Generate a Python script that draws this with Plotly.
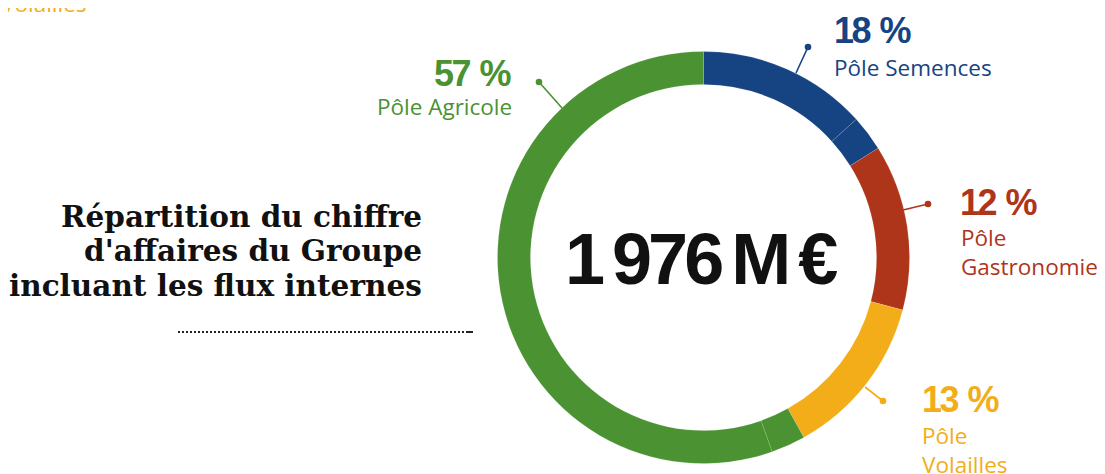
import plotly.graph_objects as go

W, H = 1105, 474
OFF = 8  # page body margin of the html page

# ---- data ----
seg_labels = ["Pôle Semences", "Pôle Semences (flux internes)", "Pôle Gastronomie",
              "Pôle Volailles", "Pôle Agricole (flux internes)", "Pôle Agricole"]
seg_values = [13.3, 2.8, 13.0, 12.8, 2.7, 55.4]
pole_names = ["Pôle Semences", "Pôle<br>Gastronomie", "Pôle<br>Volailles", "Pôle Agricole"]
pole_pcts = ["18 %", "12 %", "13 %", "57 %"]
total_text = "1 976 M €"
title_lines = ["Répartition du chiffre", "d'affaires du Groupe", "incluant les flux internes"]

BLUE, RED, YEL, GRN = "#164382", "#ae3519", "#f2ad18", "#4a9232"
seg_colors = [BLUE, BLUE, RED, YEL, GRN, GRN]


def px(x):
    return (x - OFF) / W


def py(y):
    return 1 - (y - OFF) / H


cx, cy, R = 703.5, 257.5, 206

fig = go.Figure(go.Pie(
    labels=seg_labels, values=seg_values, sort=False, direction="clockwise", rotation=0,
    hole=0.84, textinfo="none", showlegend=False,
    marker=dict(colors=seg_colors, line=dict(color="rgba(255,255,255,0.25)", width=0.5)),
    domain=dict(x=[px(cx - R), px(cx + R)], y=[py(cy + R), py(cy - R)]),
))

ann = []
NUM_FONT = "Liberation Sans, Arial, sans-serif"
LAB_FONT = "Open Sans, Noto Sans, sans-serif"


def squeeze(t, ls, ws):
    return f'<span style="letter-spacing:{ls}px;word-spacing:{ws}px">{t}</span>'


# center total
ann.append(dict(x=px(701), y=py(259), text=squeeze(total_text, -4, -5), showarrow=False,
                xanchor="center", yanchor="middle",
                font=dict(family=NUM_FONT, size=72, color="#111111", weight="bold")))

# pole labels: pct (x, y), anchor, name (x, y)
label_pos = [
    (832, 31, "left", 832, 67),
    (958, 202, "left", 959, 252),
    (920, 399, "left", 920, 450),
    (514, 73, "right", 514, 106),
]
pole_cols = [BLUE, RED, YEL, GRN]
for (xp, yp, anc, xn, yn), pct, name, col in zip(label_pos, pole_pcts, pole_names, pole_cols):
    ann.append(dict(x=px(xp), y=py(yp), text=squeeze(pct, -2.5, 3), showarrow=False, xanchor=anc,
                    yanchor="middle",
                    font=dict(family=NUM_FONT, size=36, color=col, weight="bold")))
    ann.append(dict(x=px(xn), y=py(yn), text=name, showarrow=False, xanchor=anc, yanchor="middle",
                    align=anc, font=dict(family=LAB_FONT, size=22.5, color=col)))

# cut-off label from the chart above
ann.append(dict(x=px(-1), y=py(3), text="Volailles", showarrow=False, xanchor="left", yanchor="middle",
                font=dict(family=LAB_FONT, size=22.5, color=YEL)))

# title lines
for i, t in enumerate(title_lines):
    ann.append(dict(x=px(424), y=py(216 + i * 34.5), text=t, showarrow=False, xanchor="right",
                    yanchor="middle",
                    font=dict(family="DejaVu Serif, serif", size=29.5, color="#111111", weight="bold")))

shapes = []
# leader lines with dots
leaders = [((796, 73), (808, 47), BLUE), ((903, 210), (928, 204), RED),
           ((865, 387), (883, 401), YEL), ((562, 108), (539, 82), GRN)]
for (x0, y0), (x1, y1), col in leaders:
    shapes.append(dict(type="line", xref="paper", yref="paper", x0=px(x0), y0=py(y0), x1=px(x1), y1=py(y1),
                       line=dict(color=col, width=1.6)))
    r = 3.3
    shapes.append(dict(type="circle", xref="paper", yref="paper", x0=px(x1 - r), x1=px(x1 + r),
                       y0=py(y1 + r), y1=py(y1 - r), fillcolor=col, line=dict(width=0)))

# dotted rule under the title
shapes.append(dict(type="line", xref="paper", yref="paper", x0=px(178), x1=px(468), y0=py(332), y1=py(332),
                   line=dict(color="#222222", width=2, dash="2px,2px")))
shapes.append(dict(type="line", xref="paper", yref="paper", x0=px(468), x1=px(473), y0=py(332), y1=py(332),
                   line=dict(color="#222222", width=2)))

# bottom of the donut from the chart above (cut off)
shapes.append(dict(type="circle", xref="paper", yref="paper", x0=px(288 - 207), x1=px(288 + 207),
                   y0=py(6), y1=py(6 - 414), fillcolor=GRN, line=dict(width=0), layer="below"))

fig.update_layout(width=W, height=H, margin=dict(l=0, r=0, t=0, b=0),
                  paper_bgcolor="white", plot_bgcolor="white",
                  annotations=ann, shapes=shapes)

fig.write_html("out.html")
